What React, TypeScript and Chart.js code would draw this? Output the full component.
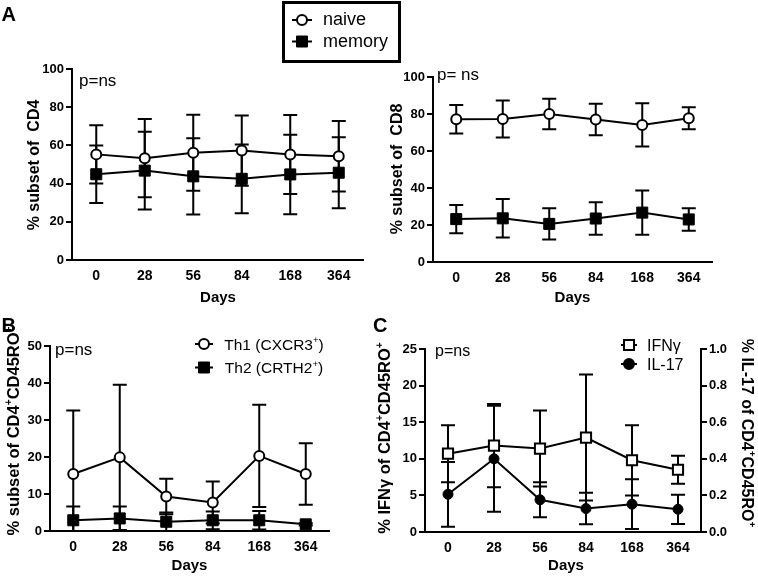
import React, { useEffect, useRef } from 'react';
import { Chart, registerables } from 'chart.js';

Chart.register(...registerables);

const FONT = "'Liberation Sans', Arial, Helvetica, sans-serif";
const W = 758;
const H = 577;

// ---------- data ----------
const DAYS = ['0', '28', '56', '84', '168', '364'];

// Panel A (CD4)
const cd4NaiveMean = [55.3, 53.3, 56.2, 57.3, 55.2, 54.3];
const cd4NaiveSd = [15.3, 20.5, 19.9, 18.4, 20.7, 18.5];
const cd4MemoryMean = [44.9, 46.8, 43.8, 42.5, 44.8, 45.7];
const cd4MemorySd = [15.1, 20.3, 20.0, 18.0, 20.8, 18.6];

// Panel A (CD8)
const cd8NaiveMean = [77.2, 77.3, 80.0, 77.0, 74.1, 77.7];
const cd8NaiveSd = [7.7, 10.0, 8.3, 8.5, 11.7, 5.9];
const cd8MemoryMean = [23.2, 23.6, 20.6, 23.5, 26.7, 23.0];
const cd8MemorySd = [7.6, 10.4, 8.4, 8.8, 12.0, 6.1];

// Panel B
const th1Mean = [15.4, 19.9, 9.3, 7.7, 20.3, 15.4];
const th1Sd = [17.2, 19.6, 4.8, 5.7, 13.8, 8.3];
const th2Mean = [2.9, 3.4, 2.5, 2.9, 2.9, 1.8];
const th2Sd = [3.7, 3.2, 2.5, 2.4, 2.5, 0.3];

// Panel C
const ifngMean = [10.7, 11.8, 11.4, 12.9, 9.8, 8.5];
const ifngSd = [3.9, 5.7, 5.2, 8.6, 4.8, 1.9];
const il17Mean = [0.206, 0.4, 0.176, 0.128, 0.152, 0.124];
const il17Sd = [0.177, 0.29, 0.096, 0.086, 0.136, 0.08];

// ---------- drawing helpers ----------
type Seg = { t: string; sup?: boolean };

function fontStr(size: number, bold: boolean) {
  return `${bold ? 'bold ' : ''}${size}px ${FONT}`;
}

function drawRich(ctx: CanvasRenderingContext2D, segs: Seg[], cx: number, cy: number, size: number, bold: boolean, rot: number) {
  ctx.save();
  ctx.translate(cx, cy);
  ctx.rotate(rot);
  ctx.fillStyle = '#000';
  ctx.textAlign = 'left';
  ctx.textBaseline = 'alphabetic';
  let total = 0;
  for (const s of segs) {
    ctx.font = fontStr(s.sup ? size * 0.62 : size, bold);
    total += ctx.measureText(s.t).width;
  }
  let x = -total / 2;
  const base = size * 0.36;
  for (const s of segs) {
    ctx.font = fontStr(s.sup ? size * 0.62 : size, bold);
    ctx.fillText(s.t, x, base - (s.sup ? size * 0.42 : 0));
    x += ctx.measureText(s.t).width;
  }
  ctx.restore();
}

function drawText(ctx: CanvasRenderingContext2D, t: string, x: number, y: number, size: number, bold: boolean, align: CanvasTextAlign = 'left') {
  ctx.save();
  ctx.fillStyle = '#000';
  ctx.font = fontStr(size, bold);
  ctx.textAlign = align;
  ctx.textBaseline = 'alphabetic';
  ctx.fillText(t, x, y);
  ctx.restore();
}

function drawMarker(ctx: CanvasRenderingContext2D, kind: string, x: number, y: number) {
  ctx.save();
  ctx.strokeStyle = '#000';
  ctx.fillStyle = '#000';
  ctx.lineWidth = 2;
  ctx.beginPath();
  if (kind === 'circleOpen') {
    ctx.arc(x, y, 5, 0, Math.PI * 2);
    ctx.fillStyle = '#fff';
    ctx.fill();
    ctx.stroke();
  } else if (kind === 'circleFilled') {
    ctx.arc(x, y, 5, 0, Math.PI * 2);
    ctx.fill();
    ctx.stroke();
  } else if (kind === 'squareFilled') {
    ctx.rect(x - 5.5, y - 5.5, 11, 11);
    ctx.fill();
    ctx.lineWidth = 1;
    ctx.stroke();
  } else if (kind === 'squareOpen') {
    ctx.rect(x - 5, y - 5, 10, 10);
    ctx.fillStyle = '#fff';
    ctx.fill();
    ctx.stroke();
  }
  ctx.restore();
}

function legendItem(ctx: CanvasRenderingContext2D, kind: string, x1: number, x2: number, y: number) {
  ctx.save();
  ctx.strokeStyle = '#000';
  ctx.lineWidth = 2;
  ctx.beginPath();
  ctx.moveTo(x1, y);
  ctx.lineTo(x2, y);
  ctx.stroke();
  ctx.restore();
  drawMarker(ctx, kind, (x1 + x2) / 2, y);
}

// ---------- plugins ----------
const errorBarPlugin = {
  id: 'errorBars',
  beforeDatasetsDraw(chart: any) {
    const { ctx, chartArea } = chart;
    ctx.save();
    ctx.beginPath();
    ctx.rect(chartArea.left - 20, chartArea.top - 20, chartArea.right - chartArea.left + 40, chartArea.bottom - chartArea.top + 20);
    ctx.clip();
    ctx.strokeStyle = '#000';
    ctx.lineWidth = 2;
    chart.data.datasets.forEach((ds: any, i: number) => {
      const sd: number[] | undefined = ds.errorBars;
      if (!sd) return;
      const meta = chart.getDatasetMeta(i);
      const ys = chart.scales[meta.yAxisID];
      meta.data.forEach((pt: any, j: number) => {
        const v = ds.data[j];
        const top = ys.getPixelForValue(v + sd[j]);
        const bot = ys.getPixelForValue(v - sd[j]);
        const x = pt.x;
        const cw = 7;
        ctx.beginPath();
        ctx.moveTo(x, top);
        ctx.lineTo(x, bot);
        ctx.moveTo(x - cw, top);
        ctx.lineTo(x + cw, top);
        ctx.moveTo(x - cw, bot);
        ctx.lineTo(x + cw, bot);
        ctx.stroke();
      });
    });
    ctx.restore();
  },
};

function decorPlugin(fn: (ctx: CanvasRenderingContext2D, area: any) => void) {
  return {
    id: 'decor',
    afterDraw(chart: any) {
      fn(chart.ctx, chart.chartArea);
    },
  };
}

// ---------- config builders ----------
const YW = 40;
const XH = 40;

function series(label: string, data: number[], sd: number[], kind: string, yAxisID = 'y') {
  const open = kind === 'circleOpen' || kind === 'squareOpen';
  const circle = kind.startsWith('circle');
  return {
    label,
    data,
    errorBars: sd,
    yAxisID,
    borderColor: '#000',
    borderWidth: 2,
    tension: 0,
    fill: false,
    clip: false as any,
    pointStyle: circle ? 'circle' : 'rect',
    pointRadius: circle ? 5 : (open ? 7.2 : 7.8),
    pointBackgroundColor: open ? '#fff' : '#000',
    pointBorderColor: '#000',
    pointBorderWidth: open ? 2 : 1,
    pointHoverRadius: circle ? 5 : 7.5,
  };
}

function yAxis(min: number, max: number, step: number, position: 'left' | 'right', fmt?: (v: number) => string) {
  return {
    type: 'linear',
    position,
    min,
    max,
    grid: { display: true, drawOnChartArea: false, drawTicks: true, tickLength: 6, color: '#000', lineWidth: 2 },
    border: { display: true, color: '#000', width: 2 },
    ticks: {
      stepSize: step,
      color: '#000',
      padding: 2,
      font: { family: FONT, size: 13, weight: 'bold' },
      callback: fmt ? (v: any) => fmt(Number(v)) : (v: any) => String(v),
    },
    afterFit: (s: any) => {
      s.width = YW;
    },
  };
}

function xAxis() {
  return {
    type: 'category',
    offset: true,
    grid: { display: false, drawTicks: false },
    border: { display: true, color: '#000', width: 2 },
    ticks: {
      color: '#000',
      padding: 8,
      maxRotation: 0,
      autoSkip: false,
      font: { family: FONT, size: 14, weight: 'bold' },
    },
    afterFit: (s: any) => {
      s.height = XH;
    },
  };
}

type Area = { l: number; t: number; r: number; b: number };

function baseConfig(area: Area, datasets: any[], scales: any, decor: (ctx: CanvasRenderingContext2D, a: any) => void, rightAxis = false) {
  return {
    type: 'line' as const,
    data: { labels: DAYS, datasets },
    options: {
      animation: false as const,
      responsive: false,
      maintainAspectRatio: false,
      devicePixelRatio: 1,
      events: [] as any[],
      layout: {
        padding: {
          left: area.l - YW,
          top: area.t,
          right: W - area.r - (rightAxis ? YW : 0),
          bottom: H - area.b - XH,
        },
      },
      plugins: { legend: { display: false }, tooltip: { enabled: false }, title: { display: false } },
      scales,
    },
    plugins: [errorBarPlugin, decorPlugin(decor)],
  };
}

const sup = (t: string): Seg => ({ t, sup: true });
const txt = (t: string): Seg => ({ t });

function makeA1() {
  const area = { l: 72, t: 69, r: 363, b: 260 };
  return baseConfig(
    area,
    [
      series('naive', cd4NaiveMean, cd4NaiveSd, 'circleOpen'),
      series('memory', cd4MemoryMean, cd4MemorySd, 'squareFilled'),
    ],
    { x: xAxis(), y: yAxis(0, 100, 20, 'left') },
    (ctx) => {
      drawText(ctx, 'A', 1.5, 20.5, 20, true);
      // shared legend box
      ctx.save();
      ctx.strokeStyle = '#000';
      ctx.lineWidth = 3;
      ctx.strokeRect(283.5, 2.5, 116, 59);
      ctx.restore();
      legendItem(ctx, 'circleOpen', 292, 312, 20);
      legendItem(ctx, 'squareFilled', 292, 312, 41.5);
      drawText(ctx, 'naive', 323, 25, 18, false);
      drawText(ctx, 'memory', 323, 46.5, 18, false);
      drawText(ctx, 'p=ns', 79, 86, 17, false);
      drawRich(ctx, [txt('% subset of  CD4')], 33, 165, 16, true, -Math.PI / 2);
      drawText(ctx, 'Days', 218, 302, 15, true, 'center');
    }
  );
}

function makeA2() {
  const area = { l: 433, t: 77, r: 712, b: 262 };
  return baseConfig(
    area,
    [
      series('naive', cd8NaiveMean, cd8NaiveSd, 'circleOpen'),
      series('memory', cd8MemoryMean, cd8MemorySd, 'squareFilled'),
    ],
    { x: xAxis(), y: yAxis(0, 100, 20, 'left') },
    (ctx) => {
      drawText(ctx, 'p= ns', 437, 80, 17, false);
      drawRich(ctx, [txt('% subset of  CD8')], 396, 169, 16, true, -Math.PI / 2);
      drawText(ctx, 'Days', 572.5, 302, 15, true, 'center');
    }
  );
}

function makeB() {
  const area = { l: 50, t: 346, r: 329, b: 531 };
  return baseConfig(
    area,
    [
      series('Th1 (CXCR3+)', th1Mean, th1Sd, 'circleOpen'),
      series('Th2 (CRTH2+)', th2Mean, th2Sd, 'squareFilled'),
    ],
    { x: xAxis(), y: yAxis(0, 50, 10, 'left') },
    (ctx) => {
      drawText(ctx, 'B', 1.5, 332, 20, true);
      drawText(ctx, 'p=ns', 55, 355, 17, false);
      legendItem(ctx, 'circleOpen', 195, 213, 344);
      legendItem(ctx, 'squareFilled', 195, 213, 367.5);
      drawRich(ctx, [txt('Th1 (CXCR3'), sup('+'), txt(')')], 274, 344, 15.5, false, 0);
      drawRich(ctx, [txt('Th2 (CRTH2'), sup('+'), txt(')')], 274, 367.5, 15.5, false, 0);
      drawRich(
        ctx,
        [txt('% subset of CD4'), sup('+'), txt('CD45RO'), sup('+')],
        13,
        431,
        16.5,
        true,
        -Math.PI / 2
      );
      drawText(ctx, 'Days', 189.5, 570, 15, true, 'center');
    }
  );
}

function makeC() {
  const area = { l: 425, t: 349, r: 701, b: 532 };
  return baseConfig(
    area,
    [
      series('IFNγ', ifngMean, ifngSd, 'squareOpen', 'y'),
      series('IL-17', il17Mean, il17Sd, 'circleFilled', 'y1'),
    ],
    {
      x: xAxis(),
      y: yAxis(0, 25, 5, 'left'),
      y1: yAxis(0, 1, 0.2, 'right', (v) => v.toFixed(1)),
    },
    (ctx) => {
      drawText(ctx, 'C', 373, 332, 20, true);
      drawText(ctx, 'p=ns', 435, 356, 16, false);
      legendItem(ctx, 'squareOpen', 621, 637, 345);
      legendItem(ctx, 'circleFilled', 621, 637, 364);
      drawText(ctx, 'IFNγ', 647, 351, 16, false);
      drawText(ctx, 'IL-17', 647, 370, 16, false);
      drawRich(
        ctx,
        [txt('% IFNγ of CD4'), sup('+'), txt('CD45RO'), sup('+')],
        384,
        438,
        16.5,
        true,
        -Math.PI / 2
      );
      drawRich(
        ctx,
        [txt('% IL-17 of CD4'), sup('+'), txt('CD45RO'), sup('+')],
        748,
        433,
        16,
        true,
        Math.PI / 2
      );
      drawText(ctx, 'Days', 566, 570, 15, true, 'center');
    },
    true
  );
}

function ChartCanvas({ make }: { make: () => any }) {
  const ref = useRef<HTMLCanvasElement | null>(null);
  useEffect(() => {
    if (!ref.current) return;
    const chart = new Chart(ref.current, make());
    return () => chart.destroy();
  }, [make]);
  return (
    <canvas
      ref={ref}
      width={W}
      height={H}
      style={{ position: 'absolute', left: 0, top: 0, width: W, height: H }}
    />
  );
}

export default function App() {
  return (
    <div style={{ position: 'absolute', left: 0, top: 0, width: W, height: H, background: '#fff', overflow: 'hidden' }}>
      <ChartCanvas make={makeA1} />
      <ChartCanvas make={makeA2} />
      <ChartCanvas make={makeB} />
      <ChartCanvas make={makeC} />
    </div>
  );
}
